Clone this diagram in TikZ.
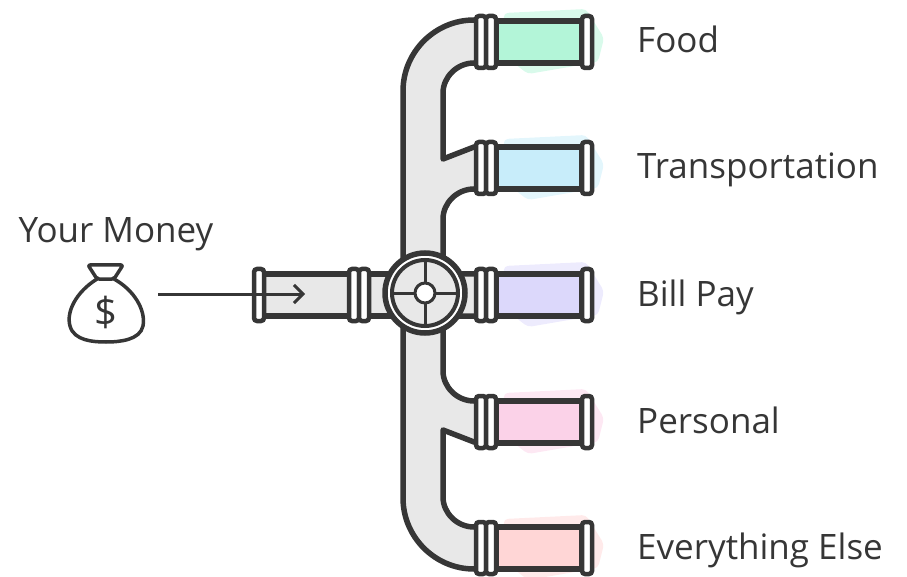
\documentclass[tikz,border=0pt]{standalone}
\usepackage{fontspec}
\setmainfont{Open Sans}
\usetikzlibrary{arrows.meta}
\definecolor{ink}{HTML}{363636}
\definecolor{pipe}{HTML}{E8E8E8}
\definecolor{food}{HTML}{B3F5D8}
\definecolor{transport}{HTML}{C8EDFA}
\definecolor{billpay}{HTML}{DCD8FB}
\definecolor{personal}{HTML}{FBD2E8}
\definecolor{other}{HTML}{FFD6D6}
\tikzset{
  pipeline/.style={draw=ink, line width=5.5pt, line join=round},
  flange/.style={draw=ink, fill=white, line width=4.5pt, rounded corners=3pt},
  lbl/.style={font=\fontsize{35}{38}\selectfont, text=ink, anchor=base west, inner sep=0pt},
}
% one ring of a pipe joint, centred at (x,y)
\newcommand{\flange}[2]{\draw[flange] ({#1-5},{#2-26}) rectangle ({#1+5},{#2+26});}

\begin{document}
\begin{tikzpicture}[x=1pt, y=-1pt, >={Straight Barb[length=9pt,width=18pt]}]
\useasboundingbox (0,0) rectangle (907,577);

% manifold: one bent pipe with five outlets
\filldraw[pipeline, fill=pipe] (482,20) -- (474,20)
  .. controls (435,20) and (403,52) .. (403,91) -- (403,498)
  .. controls (403,537) and (435,569) .. (474,569) -- (482,569) -- (482,527) -- (474,527)
  .. controls (457,527) and (443,513) .. (443,497) -- (443,430) -- (474,442) -- (482,442)
  -- (482,401) -- (474,401) .. controls (457,401) and (443,387) .. (443,371)
  -- (443,316) -- (482,316) -- (482,274) -- (443,274) -- (443,219)
  .. controls (443,203) and (457,189) .. (474,189) -- (482,189) -- (482,147) -- (474,147)
  -- (443,159) -- (443,93) .. controls (443,77) and (457,63) .. (474,63) -- (482,63) -- cycle;

% outlets
\foreach \y/\col in {42/food,168/transport,295/billpay,422/personal,548/other} {
  \fill[\col, opacity=.5, rounded corners=4pt] (504,\y-29) -- (586,\y-33) -- (604,\y-4)
    -- (598,\y+20) -- (528,\y+32) -- (502,\y+12) -- cycle;
  \filldraw[pipeline, fill=\col] (496,\y-21) rectangle (582,\y+21);
  \flange{481}{\y} \flange{491}{\y} \flange{587}{\y}
}

% inlet pipe
\filldraw[pipeline, fill=pipe] (262,274) rectangle (392,316);
\flange{259}{295} \flange{354}{295} \flange{364}{295}

% valve wheel
\filldraw[draw=ink, line width=5.5pt, fill=white] (425,293) circle (40pt);
\filldraw[draw=ink, line width=4pt, fill=pipe] (425,293) circle (33pt);
\draw[ink, line width=3pt] (392,293) -- (458,293) (425,260) -- (425,326);
\filldraw[draw=ink, line width=3pt, fill=white] (425,293) circle (10pt);

% money bag
\begin{scope}[draw=ink, line width=3.5pt, line join=round, line cap=round]
  \draw (97,279) .. controls (76,292) and (66,312) .. (70,326)
    .. controls (74,341) and (94,342) .. (106,342)
    .. controls (120,342) and (140,340) .. (143,326)
    .. controls (146,310) and (134,290) .. (114,279);
  \draw[rounded corners=2pt] (97,279) -- (88,265) -- (123,265) -- (114,279) -- cycle;
\end{scope}
\node[font=\fontsize{40}{40}\selectfont, text=ink] (dollar) at (106,312) {\$};
\node[lbl, anchor=base] (money) at (116,243) {Your Money};

\coordinate (bagout) at (158,294);
\coordinate (inlet) at (305,294);
\draw[->, ink, line width=3pt] (bagout) -- (inlet);

% category labels
\node[lbl] (food) at (637,53) {Food};
\node[lbl] (transport) at (637,179) {Transportation};
\node[lbl] (billpay) at (637,306) {Bill Pay};
\node[lbl] (personal) at (637,433) {Personal};
\node[lbl] (other) at (637,559) {Everything Else};
\end{tikzpicture}
\end{document}
